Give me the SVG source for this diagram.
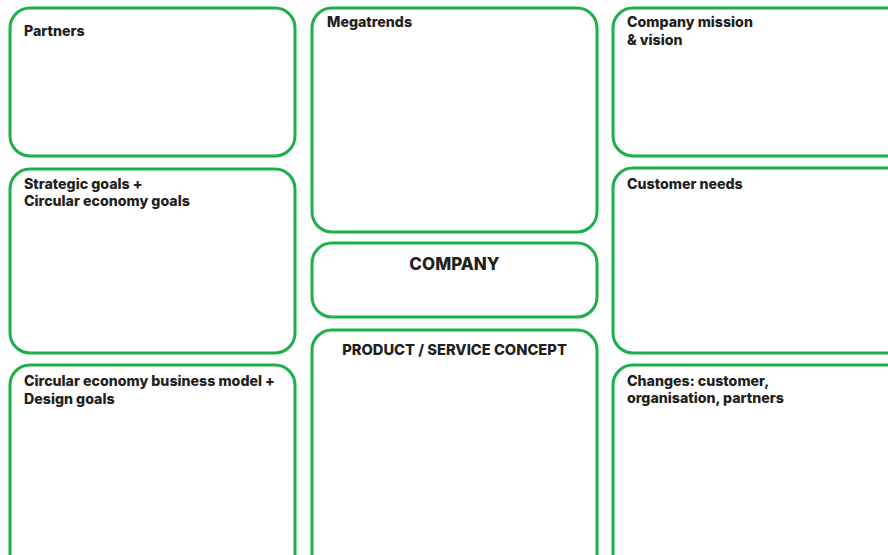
<svg xmlns="http://www.w3.org/2000/svg" width="888" height="555" viewBox="0 0 888 555">
<style>
.box{fill:#fff;stroke:#1bb04b;stroke-width:3}
.t{font-family:Inter,"Liberation Sans",sans-serif;font-weight:800;font-size:14.2px;fill:#231f20}
.c{text-anchor:middle}
</style>
<rect width="888" height="555" fill="#fff"/>
<g id="partners"><rect class="box" x="10" y="8" width="285" height="148" rx="20"/><text class="t" x="24" y="36">Partners</text></g>
<g id="strategic"><rect class="box" x="10" y="169" width="285" height="184" rx="20"/><text class="t" x="24" y="189">Strategic goals +</text><text class="t" x="24" y="206">Circular economy goals</text></g>
<g id="circular"><rect class="box" x="10" y="365" width="285" height="220" rx="20"/><text class="t" x="24" y="386">Circular economy business model +</text><text class="t" x="24" y="404">Design goals</text></g>
<g id="megatrends"><rect class="box" x="312" y="8" width="285" height="224" rx="20"/><text class="t" x="327" y="27">Megatrends</text></g>
<g id="company"><rect class="box" x="312" y="243" width="285" height="74" rx="20"/><text class="t c" x="454.5" y="270" style="font-size:17px">COMPANY</text></g>
<g id="product"><rect class="box" x="312" y="330" width="285" height="260" rx="20"/><text class="t c" x="454.5" y="355" style="font-size:14.7px">PRODUCT / SERVICE CONCEPT</text></g>
<g id="mission"><rect class="box" x="613" y="8" width="300" height="148" rx="20"/><text class="t" x="627" y="27">Company mission</text><text class="t" x="627" y="45">&amp; vision</text></g>
<g id="customer"><rect class="box" x="613" y="168" width="300" height="185" rx="20"/><text class="t" x="627" y="189">Customer needs</text></g>
<g id="changes"><rect class="box" x="613" y="365" width="300" height="220" rx="20"/><text class="t" x="627" y="386">Changes: customer,</text><text class="t" x="627" y="403">organisation, partners</text></g>
<g id="connectors"></g>
</svg>
